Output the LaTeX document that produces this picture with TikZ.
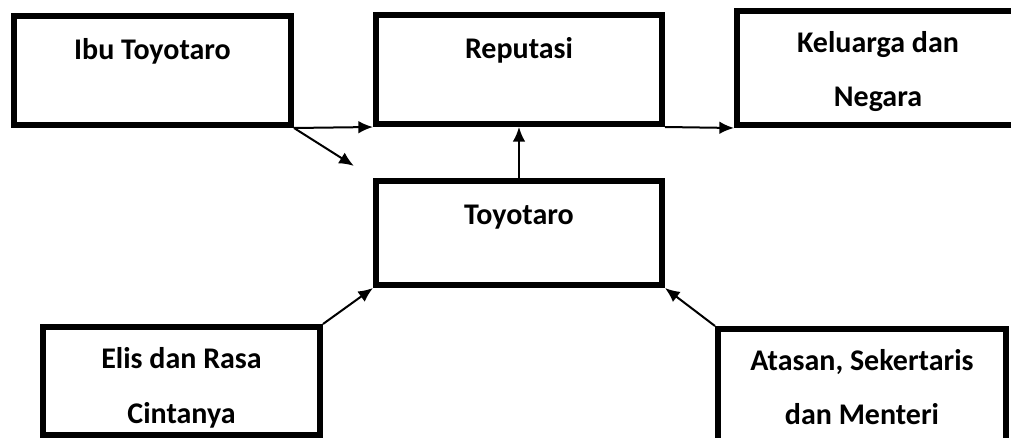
\documentclass[tikz,border=0pt]{standalone}
\usepackage{fontspec}
\setmainfont{Carlito}
\usetikzlibrary{arrows.meta}
\tikzset{
	block/.style = {draw, fill=white, rectangle, line width=4.5pt, anchor=north west, inner sep=0pt, align=center, text height=33pt, font=\fontsize{22.5}{40.5}\selectfont\bfseries},
	twoline/.style = {text height=72pt},
	link/.style  = {->, line width=1.5pt},
}

\begin{document}
\begin{tikzpicture}[x=0.75pt, y=-0.75pt, >={Latex[length=11pt, width=9.5pt]}]
		% Page frame, the bottom boxes run past it
		\useasboundingbox (0,0) rectangle (1011,438);
		\clip (0,0) rectangle (1011,438);

		% Draw the boxes
		\draw
			node[block, minimum width=207.75pt, text depth=48.75pt] (ibu) at (11,13)  {Ibu Toyotaro}
			node[block, minimum width=214.5pt , text depth=48.75pt] (rep) at (373,12) {Reputasi}
			node[block, twoline, minimum width=211.5pt, text depth=13.5pt] (kel) at (734,8)  {Keluarga dan\\Negara}
			node[block, minimum width=214.5pt , text depth=45pt   ] (toy) at (373,178) {Toyotaro}
			node[block, twoline, minimum width=207.75pt, text depth=9pt] (elis) at (40,324) {Elis dan Rasa\\Cintanya}
			node[block, twoline, minimum width=216pt, text depth=12pt] (atasan) at (715,326) {Atasan, Sekertaris\\dan Menteri};

		% Connect everything together
		\draw[link] (ibu.south east) -- (rep.south west);
		\draw[link, shorten >=17pt] (ibu.south east) -- (toy.north west);
		\draw[link] (rep.south east) -- (kel.south west);
		\draw[link] (toy.north) -- (rep.south);
		\draw[link] (elis.north east) -- (toy.south west);
		\draw[link] (atasan.north west) -- (toy.south east);
	\end{tikzpicture}
\end{document}
